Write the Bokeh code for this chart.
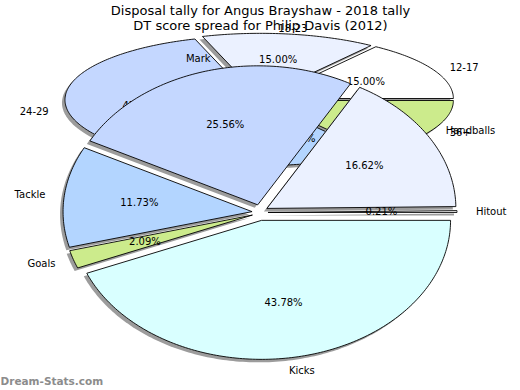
import numpy as np
from bokeh.plotting import figure
from bokeh.models import Range1d
from bokeh.core.properties import value
from bokeh.embed import file_html
from bokeh.resources import INLINE

# ---------------- data ----------------
title_lines = ["Disposal tally for Angus Brayshaw - 2018 tally",
               "DT score spread for Philip Davis (2012)"]

# Disposal pie (counter-clockwise from 3 o'clock)
disp_labels = ["Hitout", "Handballs", "Mark", "Tackle", "Goals", "Kicks"]
disp_values = [0.21, 16.62, 25.56, 11.73, 2.09, 43.78]
disp_colors = ["#FFFFFF", "#EBF1FF", "#C4D7FF", "#B3D5FF", "#CCEB8C", "#D9FFFF"]

# DT score pie (counter-clockwise from 3 o'clock)
dt_labels = ["12-17", "18-23", "24-29", "30-35", "36+"]
dt_values = [15, 15, 45, 10, 15]
dt_colors = ["#FFFFFF", "#EBF1FF", "#C4D7FF", "#B3D5FF", "#CCEB8C"]

watermark = "Dream-Stats.com"

# ---------------- figure ----------------
W, H = 520, 390
p = figure(width=W, height=H, output_backend="svg", toolbar_location=None,
           x_axis_type=None, y_axis_type=None, title=None,
           x_range=Range1d(0, W), y_range=Range1d(H, 0),
           min_border=0, min_border_left=0, min_border_right=0,
           min_border_top=0, min_border_bottom=0)
p.outline_line_color = None
p.background_fill_color = "white"
p.border_fill_color = "white"

FONT = value("DejaVu Sans")
SHADOW = (-3, 3)


def draw_pie(values, labels, colors, cx, cy, rx, ry, ex, ey):
    vals = np.array(values, dtype=float)
    total = vals.sum()
    fr = vals / total
    starts = np.concatenate([[0.0], np.cumsum(fr)[:-1]]) * 2 * np.pi
    ends = np.cumsum(fr) * 2 * np.pi
    xs, ys, sxs, sys_ = [], [], [], []
    pct_x, pct_y, pct_t = [], [], []
    lab = {"left": ([], [], []), "right": ([], [], []), "center": ([], [], [])}
    for a0, a1, f, name in zip(starts, ends, fr, labels):
        m = 0.5 * (a0 + a1)
        tx = cx + ex * np.cos(m)
        ty = cy - ey * np.sin(m)
        n = max(3, int(np.degrees(a1 - a0)) + 2)
        t = np.linspace(a0, a1, n)
        px = [tx] + list(tx + rx * np.cos(t))
        py = [ty] + list(ty - ry * np.sin(t))
        xs.append(px)
        ys.append(py)
        sxs.append([v + SHADOW[0] for v in px])
        sys_.append([v + SHADOW[1] for v in py])
        pct_x.append(tx + 0.6 * rx * np.cos(m))
        pct_y.append(ty - 0.6 * ry * np.sin(m))
        pct_t.append(f"{f * 100:.2f}%")
        c = np.cos(m)
        align = "left" if c > 0.35 else ("right" if c < -0.35 else "center")
        lab[align][0].append(tx + 1.1 * rx * np.cos(m))
        lab[align][1].append(ty - 1.1 * ry * np.sin(m))
        lab[align][2].append(name)
    p.patches(sxs, sys_, fill_color="#9C9C9C", line_color=None)
    p.patches(xs, ys, fill_color=colors, line_color="black", line_width=0.9)
    p.text(pct_x, pct_y, text=pct_t, text_align="center", text_baseline="middle",
           text_font=FONT, text_font_size="10px", text_color="black")
    for align, (lx, ly, lt) in lab.items():
        if lx:
            p.text(lx, ly, text=lt, text_align=align, text_baseline="middle",
                   text_font=FONT, text_font_size="10px", text_color="black")


# DT pie behind, disposal pie in front
draw_pie(dt_values, dt_labels, dt_colors, 259, 99, 188, 64, 6.6, 2.2)
draw_pie(disp_values, disp_labels, disp_colors, 259.5, 212, 189, 139, 8, 8)

# title lines
p.text([260, 260], [9.5, 25], text=title_lines, text_align="center",
       text_baseline="middle", text_font=FONT, text_font_size="13px",
       text_color="black")

# watermark
p.text([0], [386], text=[watermark], text_align="left", text_baseline="bottom",
       text_font=FONT, text_font_size="10.5px", text_font_style="bold",
       text_color="#8C8C8C")

open("out.html", "w").write(file_html(p, INLINE))
